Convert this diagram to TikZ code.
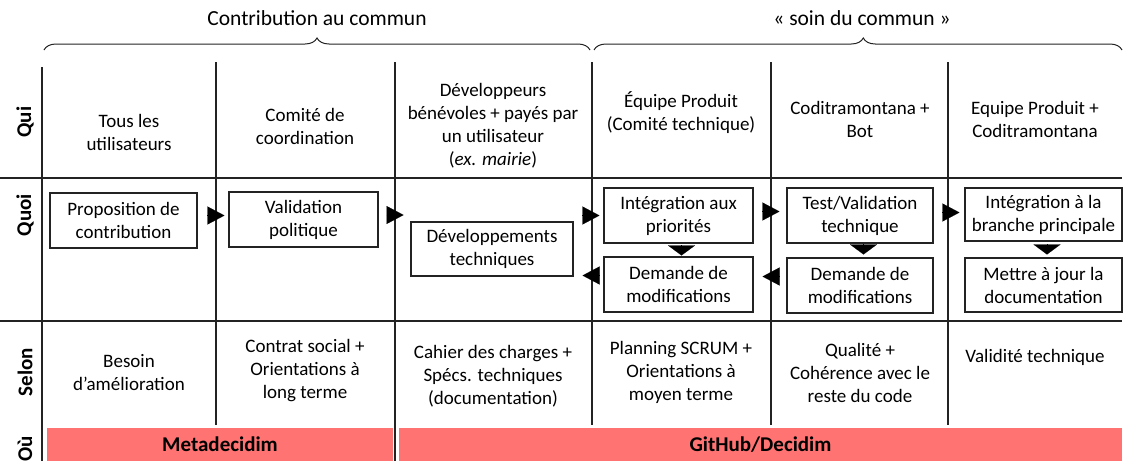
\documentclass[tikz,border=0pt]{standalone}
\usepackage{fontspec}
\setmainfont{Carlito}
\usetikzlibrary{arrows.meta,decorations.pathreplacing,calc}
\definecolor{barred}{RGB}{255,115,115}
\definecolor{ln}{RGB}{35,35,35}
\begin{document}
\begin{tikzpicture}[x=1pt,y=-1pt,
  every node/.style={font=\fontsize{19}{23}\selectfont, align=center, inner sep=0pt},
  head/.style={font=\fontsize{21.5}{25}\selectfont},
  rowlab/.style={rotate=90, font=\fontsize{21}{25}\selectfont\bfseries},
  grid/.style={draw=ln, line width=1.1pt},
  box/.style={draw=ln, line width=1.1pt},
  bar/.style={fill=barred, minimum height=33pt, font=\fontsize{21}{25}\selectfont\bfseries},
  tri/.style={-{Triangle[length=17pt,width=18pt]}, line width=0.1pt, draw=black, fill=black},
  trid/.style={-{Triangle[length=10pt,width=27pt]}, line width=0.1pt, draw=black, fill=black},
  brc/.style={decorate, decoration={brace, amplitude=12pt}, draw=ln, line width=1pt}
]
\useasboundingbox (0,0) rectangle (1125,461);

% headings and braces
\node[head] (h1) at (317,18) {Contribution au commun};
\node[head] (h2) at (862,18) {« soin du commun »};
\draw[brc] (44,50) -- (590,50);
\draw[brc, decoration={aspect=0.51}] (594,50) -- (1122,50);

% grid
\draw[grid] (0,178) -- (1122,178);
\draw[grid] (0,321) -- (1122,321);
\draw[grid] (42,67) -- (42,461);
\draw[grid] (216,62) -- (216,425);
\draw[grid] (395,62) -- (395,461);
\draw[grid] (592,62) -- (592,425);
\draw[grid] (771,62) -- (771,425);
\draw[grid] (948,62) -- (948,425);

% row labels
\node[rowlab] (lqui) at (25,122) {Qui};
\node[rowlab] (lquoi) at (25,215) {Quoi};
\node[rowlab] (lselon) at (25,372) {Selon};
\node[rowlab] (lou) at (25,449) {Où};

% Qui row
\node (q1) at (129,132) {Tous les\\utilisateurs};
\node (q2) at (305,126) {Comité de\\coordination};
\node (q3) at (493,126) {Développeurs\\bénévoles + payés par\\un utilisateur\\(\textit{ex. mairie})};
\node (q4) at (681,113) {Équipe Produit\\(Comité technique)};
\node (q5) at (860,119) {Coditramontana +\\Bot};
\node (q6) at (1035,119) {Equipe Produit +\\Coditramontana};

% Quoi row boxes
\node[box, minimum width=147pt, minimum height=55pt] (prop) at (123.5,220.5) {Proposition de\\contribution};
\node[box, minimum width=149pt, minimum height=55pt] (valid) at (303.5,219.5) {Validation\\politique};
\node[box, minimum width=162pt, minimum height=54pt] (dev) at (492,249) {Développements\\techniques};
\node[box, minimum width=149pt, minimum height=55pt] (integ) at (678.5,215.5) {Intégration aux\\priorités};
\node[box, minimum width=149pt, minimum height=55pt] (dem1) at (678.5,284.5) {Demande de\\modifications};
\node[box, minimum width=146pt, minimum height=55pt] (test) at (860,215.5) {Test/Validation\\technique};
\node[box, minimum width=146pt, minimum height=55pt] (dem2) at (860,285.5) {Demande de\\modifications};
\node[box, minimum width=157pt, minimum height=53pt] (branch) at (1043.5,214.5) {Intégration à la\\branche principale};
\node[box, minimum width=157pt, minimum height=54pt] (doc) at (1043.5,285) {Mettre à jour la\\documentation};

% arrows
\draw[tri, shorten <=11pt, shorten >=4pt] ([yshift=5pt]prop.east) -- ([yshift=5pt]prop.east -| valid.west);
\draw[tri] ([xshift=8pt,yshift=4.5pt]valid.east) -- ([xshift=25pt,yshift=4.5pt]valid.east);
\draw[tri, shorten <=10pt, shorten >=4pt] (dev.east |- integ.west) -- (integ.west);
\draw[trid, shorten <=3pt, shorten >=1pt] ([xshift=3pt]integ.south) -- ([xshift=3pt]dem1.north);
\draw[tri, shorten <=6pt, shorten >=9pt] ([yshift=9pt]dem1.west) -- ([yshift=9pt]dem1.west -| dev.east);
\draw[tri, shorten <=10pt, shorten >=7pt] ([yshift=4pt]integ.east) -- ([yshift=4pt]integ.east -| test.west);
\draw[trid, shorten <=2pt, shorten >=3pt] ([xshift=3.5pt]test.south) -- ([xshift=3.5pt]dem2.north);
\draw[tri, shorten <=7pt, shorten >=9pt] ([yshift=9pt]dem2.west) -- ([yshift=9pt]dem2.west -| dem1.east);
\draw[tri, shorten <=9pt, shorten >=5pt] ([yshift=3pt]test.east) -- ([yshift=3pt]test.east -| branch.west);
\draw[trid, shorten <=4pt, shorten >=3pt] ([xshift=3.5pt]branch.south) -- ([xshift=3.5pt]doc.north);

% Selon row
\node (s1) at (129,373) {Besoin\\d’amélioration};
\node (s2) at (305,371) {Contrat social +\\Orientations à\\long terme};
\node (s3) at (493,376) {Cahier des charges +\\Spécs. techniques\\(documentation)};
\node (s4) at (681,372) {Planning SCRUM +\\Orientations à\\moyen terme};
\node (s5) at (860,373) {Qualité +\\Cohérence avec le\\reste du code};
\node (s6) at (1035,357) {Validité technique};

% Où row
\node[bar, minimum width=346pt] (meta) at (220,444.5) {Metadecidim};
\node[bar, minimum width=723pt] (gh) at (760.5,444.5) {GitHub/Decidim};
\end{tikzpicture}
\end{document}
